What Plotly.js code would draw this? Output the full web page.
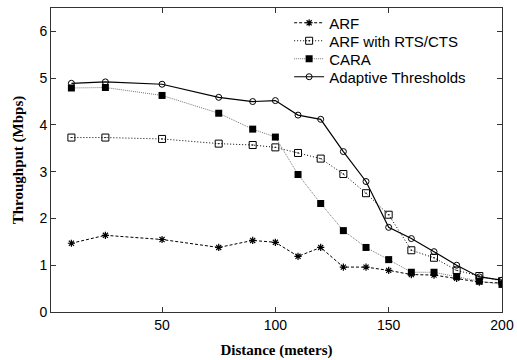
<!DOCTYPE html>
<html>
<head>
<meta charset="utf-8">
<script src="https://cdn.plot.ly/plotly-3.0.1.min.js"></script>
<style>html,body{margin:0;padding:0;background:#fff;}#chart{width:517px;height:360px;}</style>
</head>
<body>
<div id="chart"></div>
<script>
const distance = [10, 25, 50, 75, 90, 100, 110, 120, 130, 140, 150, 160, 170, 180, 190, 200];
const arf = [1.47, 1.64, 1.55, 1.38, 1.53, 1.49, 1.19, 1.38, 0.96, 0.96, 0.89, 0.80, 0.79, 0.72, 0.64, 0.62];
const arfRts = [3.73, 3.73, 3.70, 3.60, 3.57, 3.52, 3.40, 3.28, 2.95, 2.54, 2.08, 1.32, 1.16, 0.89, 0.77, 0.66];
const cara = [4.79, 4.80, 4.63, 4.25, 3.91, 3.74, 2.94, 2.32, 1.74, 1.38, 1.12, 0.85, 0.85, 0.76, 0.66, 0.59];
const adaptive = [4.89, 4.92, 4.87, 4.59, 4.50, 4.52, 4.21, 4.12, 3.43, 2.79, 1.81, 1.57, 1.29, 1.00, 0.75, 0.68];
const seriesNames = ["ARF", "ARF with RTS/CTS", "CARA", "Adaptive Thresholds"];
const xTicks = [50, 100, 150, 200];
const yTicks = [0, 1, 2, 3, 4, 5, 6];

const traces = [
  {x: distance, y: arf, name: seriesNames[0], mode: "lines+markers", legend: "legend",
   line: {color: "#000", width: 1, dash: "3px,2px"},
   marker: {symbol: "asterisk", size: 6, line: {color: "#000", width: 1.2}, color: "#000"}},
  {x: distance, y: arfRts, name: seriesNames[1], mode: "lines+markers", legend: "legend2",
   line: {color: "#000", width: 1, dash: "1px,2px"},
   marker: {symbol: "square-open-dot", size: 7, color: "#000", line: {color: "#000", width: 1}}},
  {x: distance, y: cara, name: seriesNames[2], mode: "lines+markers", legend: "legend3",
   line: {color: "#777", width: 1, dash: "1px,1px"},
   marker: {symbol: "square", size: 7, color: "#000", line: {width: 0}}},
  {x: distance, y: adaptive, name: seriesNames[3], mode: "lines+markers", legend: "legend4",
   line: {color: "#000", width: 1.2},
   marker: {symbol: "circle-open", size: 6, color: "#000", line: {color: "#000", width: 1}}}
];

const axisCommon = {
  showgrid: false, zeroline: false, showline: true, linecolor: "#333", linewidth: 1,
  mirror: "ticks", ticks: "inside", ticklen: 5, tickcolor: "#333",
  tickfont: {family: "Liberation Sans, Arial", size: 14, color: "#000"}
};

function legendAt(yPaper) {
  return {x: 0.528, y: yPaper, xanchor: "left", yanchor: "middle", bgcolor: "rgba(0,0,0,0)",
    font: {family: "Liberation Sans, Arial", size: 15, color: "#000"}, itemwidth: 30};
}

const layout = {
  width: 517, height: 360,
  margin: {l: 51, r: 15, t: 7, b: 48},
  paper_bgcolor: "#fff", plot_bgcolor: "#fff",
  showlegend: true,
  legend: legendAt(0.9475),
  legend2: legendAt(0.8885),
  legend3: legendAt(0.8295),
  legend4: legendAt(0.7705),
  xaxis: Object.assign({}, axisCommon, {range: [1, 200], tickvals: xTicks,
    title: {text: "<b>Distance (meters)</b>", standoff: 12, font: {family: "Liberation Serif, Times New Roman", size: 15, color: "#000"}}}),
  yaxis: Object.assign({}, axisCommon, {range: [0, 6.5], tickvals: yTicks,
    title: {text: "<b>Throughput (Mbps)</b>", standoff: 12, font: {family: "Liberation Serif, Times New Roman", size: 15, color: "#000"}}})
};

Plotly.newPlot("chart", traces, layout, {displayModeBar: false, staticPlot: true});
</script>
</body>
</html>
